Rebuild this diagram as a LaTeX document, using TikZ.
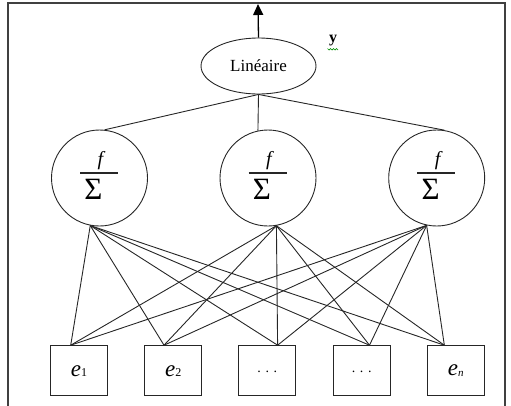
\documentclass[tikz,border=0pt]{standalone}
\usepackage{fontspec}
\setmainfont{Liberation Serif}
\usetikzlibrary{shapes.geometric,arrows.meta,calc}
\newcommand\einput[1]{{\fontsize{23}{23}\selectfont\itshape e}{\fontsize{12}{12}\selectfont #1}}
\begin{document}
\begin{tikzpicture}[x=1pt,y=-1pt,
  frameline/.style={line width=1.3pt, draw=black!75},
  link/.style={line width=0.9pt, draw=black!85},
  neuron/.style={circle, draw=black!85, line width=0.9pt, minimum size=96pt, inner sep=0pt},
  outnode/.style={ellipse, draw=black!85, line width=0.9pt, minimum width=115pt, minimum height=56pt, inner sep=0pt},
  inbox/.style={rectangle, draw=black!85, line width=1pt, minimum width=57pt, minimum height=50pt, inner sep=0pt},
  ftext/.style={inner sep=0pt, font=\fontsize{20}{20}\selectfont\itshape},
  sigtext/.style={inner sep=0pt, font=\fontsize{31}{31}\selectfont},
  fbar/.style={line width=1.1pt, draw=black!85},
  outarrow/.style={line width=1.3pt, -{Triangle[length=11pt,width=10pt]}},
]
\useasboundingbox (0,0) rectangle (511,405);
% frame
\draw[frameline] (8,410) -- (8,3) -- (505,3) -- (505,410);

% output
\node[outnode, font=\fontsize{17}{17}\selectfont] (lin) at (258.5,66) {Linéaire};
\coordinate (top) at (258,4);
\draw[outarrow] (lin.north) -- (top);
\node[inner sep=0pt, font=\fontsize{16}{16}\selectfont\bfseries] (yout) at (333,41) {y};
\draw[green!55!black, line width=0.7pt] (327.5,48.5) -- (329,50) -- (330.5,48.5) -- (332,50) -- (333.5,48.5) -- (335,50) -- (336.5,48.5) -- (338,50);

% hidden neurons
\foreach \i/\x in {1/99.5, 2/268, 3/436.7} {
  \node[neuron] (c\i) at (\x,178) {};
  \node[ftext] (f\i) at ($(c\i)+(1,-17)$) {f};
  \draw[fbar] ($(c\i)+(-19.5,-5)$) -- ($(c\i)+(18.5,-5)$);
  \node[sigtext] (s\i) at ($(c\i)+(-6,11)$) {Σ};
}

% inputs
\node[inbox] (b1) at (79,370.7) {\einput{1}};
\node[inbox] (b2) at (173.3,370.7) {\einput{2}};
\node[inbox, font=\fontsize{14}{14}\selectfont] (b3) at (267.3,370.7) {\raisebox{-3pt}{. . .}};
\node[inbox, font=\fontsize{14}{14}\selectfont] (b4) at (361.7,370.7) {\raisebox{-3pt}{. . .}};
\node[inbox] (b5) at (455.7,370.7) {{\fontsize{23}{23}\selectfont\itshape e}\raisebox{-1pt}{\fontsize{11}{11}\selectfont\itshape n}};

% output to hidden
\draw[link] (lin.south) -- (c1.84);
\draw[link] (lin.south) -- (c2.102);
\draw[link] (lin.south) -- (c3.81);

% hidden to inputs
\foreach \c/\ca in {c1/259, c2/280.5, c3/258.7} {
  \foreach \b/\ba in {b1/108, b2/110, b3/68, b4/73, b5/114} {
    \draw[link] (\c.\ca) -- (\b.\ba);
  }
}
\end{tikzpicture}
\end{document}
